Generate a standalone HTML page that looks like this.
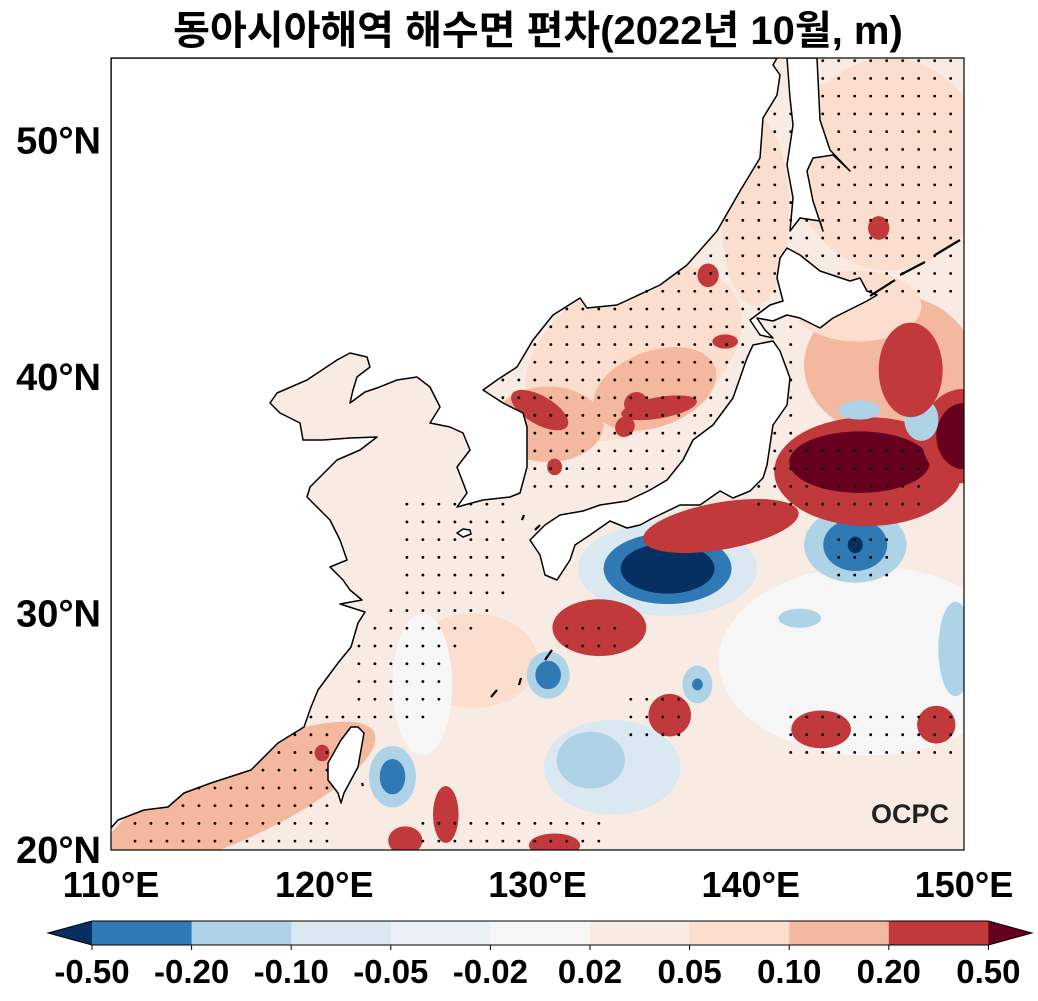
<!DOCTYPE html>
<html><head><meta charset="utf-8"><style>
html,body{margin:0;padding:0;background:#fff;}
svg{display:block;}
text{font-family:"Liberation Sans","Noto Sans CJK KR",sans-serif;font-weight:bold;}
</style></head><body>
<svg id="chart" width="1038" height="1001" viewBox="0 0 1038 1001">
<defs><clipPath id="mapclip"><rect x="111" y="58" width="853" height="792"/></clipPath></defs>
<text x="538" y="44" font-size="40" text-anchor="middle">동아시아해역 해수면 편차(2022년 10월, m)</text>
<g id="field" clip-path="url(#mapclip)"></g>
<g id="land" clip-path="url(#mapclip)"></g>
<g id="dots" clip-path="url(#mapclip)"></g>
<rect x="111" y="58" width="853" height="792" fill="none" stroke="#000" stroke-width="1.2"/>
<g id="axes"></g>
<g id="cbar"></g>
<text x="910" y="823" font-size="27" fill="#222" text-anchor="middle">OCPC</text>
</svg>
<script>
const levelColors=['#053061','#2f79b5','#aed3e7','#d9e8f1','#eaf0f5','#f7f6f6','#f7ebe3','#fbdecd','#f4b89e','#c1393b','#67001f'];
const cbarLabels=['-0.50','-0.20','-0.10','-0.05','-0.02','0.02','0.05','0.10','0.20','0.50'];
const lonTicks=[110,120,130,140,150];
const latTicks=[20,30,40,50];
// anomaly blobs (center lon, lat, radii in degrees, level index, rotation) - drawn in order
const blobLon=[146.5,140.2,134.5,146.5,145.5,145.0,146.5,131.0,130.5,135.5,144.5,116.0,127.0,124.6,133.5,132.5,149.6,142.3,136.1,136.1,136.1,144.9,144.9,144.9,145.5,145.1,150,150,138.6,145.1,148.0,147.5,146.0,138.0,130.1,135.7,134.6,134.1,130.8,138.8,132.9,130.5,130.5,137.5,137.5,136.2,143.3,148.7,125.7,123.8,119.9,123.2,123.2,130.8];
const blobLat=[49.0,47.0,41.0,40.5,28.0,43.0,47.5,44.5,38.0,39.5,51.5,22.3,28.0,27.0,23.5,23.8,28.5,29.8,31.9,31.9,31.9,32.9,32.9,32.9,36.0,36.4,37.5,37.5,33.7,38.6,38.2,40.3,46.3,44.3,38.6,38.7,38.9,37.9,36.2,41.5,29.4,27.4,27.4,27.0,27.0,25.7,25.1,25.3,21.5,20.4,24.1,23.1,23.1,20.2];
const blobRx=[4.5,1.6,5.5,4.0,7.0,3.0,1.5,3.0,2.6,3.0,2.5,7.0,3.0,1.4,3.2,1.6,0.8,1.0,4.2,3.0,2.2,2.4,1.5,0.35,4.4,3.3,2.0,1.3,3.7,1.0,0.8,1.5,0.5,0.5,1.5,1.8,0.5,0.5,0.35,0.6,2.2,1.0,0.6,0.7,0.25,1.0,1.4,0.9,0.6,0.8,0.35,1.1,0.6,1.2];
const blobRy=[4.5,4.0,3.2,3.0,4.0,1.5,1.0,1.5,1.6,1.6,1.0,1.8,2.0,3.0,2.0,1.2,2.0,0.4,2.0,1.5,1.06,1.6,1.1,0.35,2.3,1.3,2.0,1.4,1.0,0.4,0.9,2.0,0.5,0.5,0.6,0.45,0.5,0.4,0.35,0.3,1.2,1.0,0.6,0.8,0.25,0.9,0.8,0.8,1.2,0.6,0.35,1.3,0.75,0.5];
const blobLevel=[7,7,7,8,5,7,7,7,8,8,7,8,7,5,3,2,2,2,3,1,0,2,1,0,9,10,9,10,9,2,2,9,9,9,9,9,9,9,9,9,9,2,1,2,1,9,9,9,9,9,9,2,1,9];
const blobRot=[0,0,-30,0,0,0,0,0,0,-20,0,-25,0,0,0,0,0,0,0,0,0,0,0,0,0,0,0,0,-10,0,0,0,0,0,30,-10,60,-60,0,0,0,0,0,0,0,0,0,0,0,0,0,0,0,0];
// stippling grid regions (lon/lat polygons)
const stippleRegions=[
 [[127.5,35],[142,35],[142,53.5],[127.5,53.5]],
 [[142,43.5],[150,43.5],[150,53.5],[142,53.5]],
 [[110,20],[120.5,20],[120.5,23],[121,26],[119.5,26],[116,24],[110,22.3]],
 [[123.5,29],[127,29],[129,31],[129,35],[123.5,35]],
 [[121,25],[125,25],[126,28],[127,31],[124,31],[121,28]],
 [[140,34.5],[148,34.5],[148,37.5],[140,37.5]],
 [[144,31.5],[147,31.5],[147,33.5],[144,33.5]],
 [[134,24.5],[137,24.5],[137,26.5],[134,26.5]],
 [[141.5,24],[150,24],[150,26],[141.5,26]],
 [[124,20],[133,20],[133,21.5],[124,21.5]],
 [[131,28],[134,28],[134,30],[131,30]]
];
const NS='http://www.w3.org/2000/svg';
const X=lon=>111+(lon-110)*21.325;
const Y=lat=>850-(lat-20)*23.65;
function mk(tag,attrs,parent){const e=document.createElementNS(NS,tag);for(const k in attrs)e.setAttribute(k,attrs[k]);parent.appendChild(e);return e;}
const field=document.getElementById('field');
const bg=mk('rect',{x:111,y:58,width:853,height:792,fill:levelColors[6]},field);


for(let i=0;i<blobLon.length;i++){
 const cx=X(blobLon[i]),cy=Y(blobLat[i]);
 const e=mk('ellipse',{cx:cx,cy:cy,rx:blobRx[i]*21.325,ry:blobRy[i]*23.65,fill:levelColors[blobLevel[i]],transform:`rotate(${blobRot[i]} ${cx} ${cy})`},field);
 
 
}
// land (pixel coastlines)
const mainland=[[111,828],[118,820],[144,810],[168,807],[184,793],[211,783],[251,770],[278,743],[304,727],[311,707],[318,690],[338,663],[351,647],[358,623],[365,612],[340,604],[362,600],[350,590],[343,580],[330,567],[347,560],[340,540],[330,520],[317,507],[307,497],[310,487],[327,470],[337,460],[360,450],[377,437],[350,438],[323,440],[303,440],[300,423],[280,413],[270,403],[277,393],[307,380],[337,360],[350,353],[367,357],[370,367],[357,377],[353,390],[350,403],[365,392],[377,388],[397,380],[417,377],[430,387],[440,407],[430,423],[450,427],[463,433],[470,450],[457,467],[467,493],[457,507],[483,500],[510,497],[520,493],[527,467],[527,447],[527,427],[523,413],[503,403],[483,390],[497,380],[517,367],[533,340],[553,315],[580,298],[587,308],[617,305],[660,285],[687,265],[717,231],[740,191],[760,158],[763,118],[777,95],[780,75],[773,65],[777,58],[111,58]];
const sakhalin=[[787,58],[790,98],[793,125],[787,165],[793,198],[790,231],[800,218],[820,221],[823,231],[813,201],[807,171],[813,158],[833,155],[850,171],[830,150],[820,120],[817,58]];
const hokkaido=[[787,248],[800,255],[820,271],[850,281],[860,278],[867,291],[877,295],[867,301],[833,318],[820,328],[800,318],[787,315],[773,321],[757,318],[765,330],[773,338],[760,335],[750,320],[770,305],[783,301],[777,278],[780,258]];
const honshu=[[753,345],[773,341],[780,351],[790,378],[787,405],[773,425],[767,465],[763,478],[750,491],[733,498],[720,491],[700,505],[680,505],[653,518],[640,525],[627,528],[610,521],[590,535],[575,545],[570,560],[557,580],[545,575],[540,555],[530,540],[545,525],[560,515],[583,511],[600,505],[627,501],[650,490],[667,480],[683,460],[693,440],[713,425],[733,398],[740,378],[747,358]];
const taiwan=[[351,727],[358,727],[364,733],[358,767],[344,793],[341,803],[338,793],[328,780],[328,763],[341,740]];
const jeju=[[457,533],[463,529],[470,530],[471,534],[463,537]];
const landPolys=[mainland,sakhalin,hokkaido,honshu,taiwan,jeju];
const landNames=['mainland-asia','sakhalin','hokkaido','honshu-kyushu','taiwan','jeju'];
const landG=document.getElementById('land');
landPolys.forEach((p,i)=>{
 const e=mk('polygon',{points:p.map(q=>q.join(',')).join(' '),fill:'#fff',stroke:'#000','stroke-width':1.5,'stroke-linejoin':'round'},landG);
 
 
});
// small islands
const islands=[[545,660,552,650],[491,697,497,690],[519,685,521,678],[362,783,363,786],[870,296,895,280],[900,275,925,262],[935,255,960,240],[522,520,524,515],[535,530,540,525]];
islands.forEach(s=>{
 const e=mk('line',{x1:s[0],y1:s[1],x2:s[2],y2:s[3],stroke:'#000','stroke-width':2.2},landG);
 
 
});
function pip(x,y,poly){let c=false;for(let i=0,j=poly.length-1;i<poly.length;j=i++){const xi=poly[i][0],yi=poly[i][1],xj=poly[j][0],yj=poly[j][1];if(((yi>y)!=(yj>y))&&(x<(xj-xi)*(y-yi)/(yj-yi)+xi))c=!c;}return c;}
const dotsG=document.getElementById('dots');
for(let lon=111.125;lon<150;lon+=0.75){
 for(let lat=20.375;lat<53.5;lat+=0.75){
  if(!stippleRegions.some(r=>pip(lon,lat,r)))continue;
  const x=X(lon),y=Y(lat);
  if(landPolys.some(p=>pip(x,y,p)))continue;
  const d=mk('circle',{cx:x,cy:y,r:1.4,fill:'#000'},dotsG);
  
  
 }
}
const axes=document.getElementById('axes');
lonTicks.forEach(v=>{
 const t=mk('text',{x:X(v),y:897,'font-size':36,'text-anchor':'middle'},axes);
 t.textContent=v+'°E';
 
 
});
latTicks.forEach(v=>{
 const t=mk('text',{x:101,y:Y(v)+13,'font-size':38,'text-anchor':'end'},axes);
 t.textContent=v+'°N';
 
 
});
const cb=document.getElementById('cbar');
const cx0=92,cstep=99.6,cy0=921,ch=24;
const lt=mk('polygon',{points:`${cx0},${cy0} 48,${cy0+ch/2} ${cx0},${cy0+ch}`,fill:levelColors[0]},cb);


for(let i=0;i<9;i++){
 const r=mk('rect',{x:cx0+i*cstep,y:cy0,width:cstep+0.5,height:ch,fill:levelColors[i+1]},cb);
 
 
}
const xe=cx0+9*cstep;
const rt=mk('polygon',{points:`${xe},${cy0} 1032,${cy0+ch/2} ${xe},${cy0+ch}`,fill:levelColors[10]},cb);


const ol=mk('polygon',{points:`${cx0},${cy0} 48,${cy0+ch/2} ${cx0},${cy0+ch} ${xe},${cy0+ch} 1032,${cy0+ch/2} ${xe},${cy0}`,fill:'none',stroke:'#000','stroke-width':1},cb);


cbarLabels.forEach((s,i)=>{
 const x=cx0+i*cstep;
 const tk=mk('line',{x1:x,y1:cy0+ch,x2:x,y2:cy0+ch+5,stroke:'#000','stroke-width':1},cb);
 
 
 const t=mk('text',{x:x,y:983,'font-size':33,'text-anchor':'middle'},cb);
 t.textContent=s;
 
 
});
</script>
</body></html>
